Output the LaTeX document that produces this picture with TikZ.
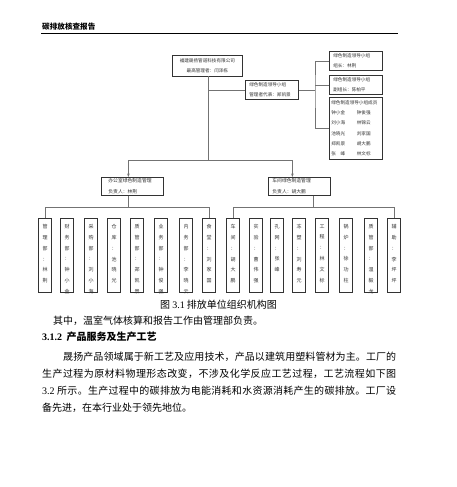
\documentclass[tikz,border=0pt]{standalone}
\usepackage{fontspec}
\setmainfont{Liberation Serif}
\newfontfamily\cjk{Noto Sans CJK SC}
\usetikzlibrary{arrows.meta, positioning}
\colorlet{boxline}{black!80}
\colorlet{linkline}{black!55}
\colorlet{chartink}{black!80}
% one character per line, for the narrow department boxes
\def\vloop#1{\ifx#1\relax\else#1\par\expandafter\vloop\fi}
\newcommand{\vchars}[1]{\parbox[t][72pt][t]{9pt}{\centering\fontsize{5}{10.8}\selectfont\vspace*{5pt}\vloop#1\relax}}
% spread the characters of a line over a given width
\def\jloop#1{#1\jnext}
\def\jnext#1{\ifx#1\relax\else\hfil#1\expandafter\jnext\fi}
\newcommand{\jline}[2]{\makebox[#1][s]{\jloop#2\relax}}
\tikzset{
  orgbox/.style={draw=boxline, line width=0.7pt, inner xsep=4pt, inner ysep=2.5pt, align=left,
    text=chartink, font=\cjk\fontsize{4.6}{10}\selectfont},
  midbox/.style={draw=boxline, line width=0.8pt, inner xsep=7pt, inner ysep=1.2pt, align=left,
    text=chartink, font=\cjk\fontsize{4.8}{11}\selectfont},
  deptbox/.style={draw=boxline, line width=0.8pt, minimum width=13pt, inner xsep=0pt, inner ysep=1pt,
    anchor=north, text=chartink, font=\cjk},
  link/.style={draw=linkline, line width=0.6pt},
  bodytext/.style={anchor=west, inner sep=0pt, font=\cjk\fontsize{10}{12}\selectfont}
}

\begin{document}
\begin{tikzpicture}[x=1pt, y=-1pt]
  \useasboundingbox[fill=white] (0,0) rectangle (456,487);

  % running head
  \node[anchor=west, inner sep=0pt, font=\cjk\bfseries\fontsize{7.6}{9}\selectfont] (head) at (42,27) {碳排放核查报告};
  \coordinate (headl) at (41,33);
  \coordinate (headr) at (398,33);
  \draw[line width=0.8pt] (headl) -- (headr);

  % top of the chart
  \node[orgbox, text width=62pt, align=center, inner ysep=3pt, font=\cjk\fontsize{4.6}{10.5}\selectfont, anchor=north west] (corp) at (172,55) {福建晟扬管道科技有限公司\\最高管理者：闫泽栋};
  \node[orgbox, text width=45pt, anchor=north west] (lead) at (245,80) {绿色制造领导小组\\管理者代表：郑凯景};
  \node[orgbox, text width=45pt, anchor=north west] (head1) at (329,51) {绿色制造领导小组\\组长：林荆};
  \node[orgbox, text width=45pt, anchor=north west] (head2) at (329,75) {绿色制造领导小组\\副组长：陈柏平};
  \node[orgbox, text width=49pt, inner xsep=2pt, inner ysep=3pt, font=\cjk\fontsize{4.6}{10.3}\selectfont, anchor=north west] (crew) at (329,97) {绿色制造领导小组成员\\
    \makebox[25.5pt][l]{钟小金}钟俊强\\
    \makebox[25.5pt][l]{刘小海}林锦云\\
    \makebox[25.5pt][l]{池晓光}刘家国\\
    \makebox[25.5pt][l]{郑凯景}胡大鹏\\
    \makebox[25.5pt][l]{张\hspace{4.6pt}峰}林文标};

  % the two managements
  \node[midbox, text width=48pt, anchor=north west] (office) at (101,177) {办公室绿色制造管理\\负责人：林荆};
  \node[midbox, text width=54pt, inner xsep=4pt, anchor=north west] (shop) at (268,177) {车间绿色制造管理\\负责人：胡大鹏};

  % departments
  \node[deptbox] (d1) at (45,218) {\vchars{管理部：林荆}};
  \node[deptbox] (d2) at (67,218) {\vchars{财务部：钟小金}};
  \node[deptbox] (d3) at (91,218) {\vchars{采购部：刘小海}};
  \node[deptbox] (d4) at (114,218) {\vchars{仓库：池晓光}};
  \node[deptbox] (d5) at (137,218) {\vchars{质管部：郑凯景}};
  \node[deptbox] (d6) at (161,218) {\vchars{业务部：钟俊强}};
  \node[deptbox] (d7) at (186,218) {\vchars{内务部：李晓云}};
  \node[deptbox] (d8) at (209,218) {\vchars{食堂：刘家国}};
  \node[deptbox] (d9) at (233,218) {\vchars{车间：胡大鹏}};
  \node[deptbox] (d10) at (256,218) {\vchars{实验：曹伟强}};
  \node[deptbox] (d11) at (277,218) {\vchars{孔网：张峰}};
  \node[deptbox] (d12) at (299,218) {\vchars{冻塑：刘寿元}};
  \node[deptbox] (d13) at (322,218) {\vchars{工程：林文标}};
  \node[deptbox] (d14) at (346,218) {\vchars{锅炉：徐功柱}};
  \node[deptbox] (d15) at (371,218) {\vchars{质管部：温毅龙}};
  \node[deptbox] (d16) at (394,218) {\vchars{辅助：李坪坪}};

  % connectors
  \coordinate (tee) at (208,160);
  \coordinate (brk) at (315,88);
  \draw[link] (corp.south -| tee) -- (tee);
  \draw[link] (lead.west -| tee) -- (lead.west);
  \draw[link, -{Stealth[length=3.5pt, width=2.6pt]}] (tee) -| ([xshift=-4pt]office.north);
  \draw[link, -{Stealth[length=3.5pt, width=2.6pt]}] (tee) -| ([xshift=-7pt]shop.north);
  \draw[link] (lead.east) -- (lead.east -| brk);
  \draw[link] (head1.west) -| (brk) |- (crew.west);
  \draw[link] (head2.west) -- (head2.west -| brk);
  \draw[link] ([xshift=-4pt]office.south) -- ++(0,12) coordinate (ljoin);
  \draw[link] (d1.north) |- (ljoin) -| (d8.north);
  \draw[link] ([xshift=14pt]shop.south) -- ++(0,12) coordinate (rjoin);
  \draw[link] (d9.north) |- (rjoin) -| (d16.north);

  % caption and text
  \node[anchor=center, inner sep=0pt, font=\cjk\fontsize{10}{12}\selectfont] (cap) at (218.5,305) {图 {\rmfamily 3.1} 排放单位组织机构图};
  \node[bodytext] (note) at (53,321) {其中，温室气体核算和报告工作由管理部负责。};
  \node[bodytext] (sect) at (42,337) {{\rmfamily\bfseries 3.1.2}\ \ {\bfseries 产品服务及生产工艺}};
  \node[bodytext] (par1) at (63,357) {\jline{333pt}{晟扬产品领域属于新工艺及应用技术，产品以建筑用塑料管材为主。工厂的}};
  \node[bodytext] (par2) at (42,374) {\jline{354pt}{生产过程为原材料物理形态改变，不涉及化学反应工艺过程，工艺流程如下图}};
  \node[bodytext] (par3) at (42,391) {\makebox[354pt][s]{\rmfamily 3.2\ \cjk\jloop 所示。生产过程中的碳排放为电能消耗和水资源消耗产生的碳排放。工厂设\relax}};
  \node[bodytext] (par4) at (42,408) {备先进，在本行业处于领先地位。};
\end{tikzpicture}
\end{document}
